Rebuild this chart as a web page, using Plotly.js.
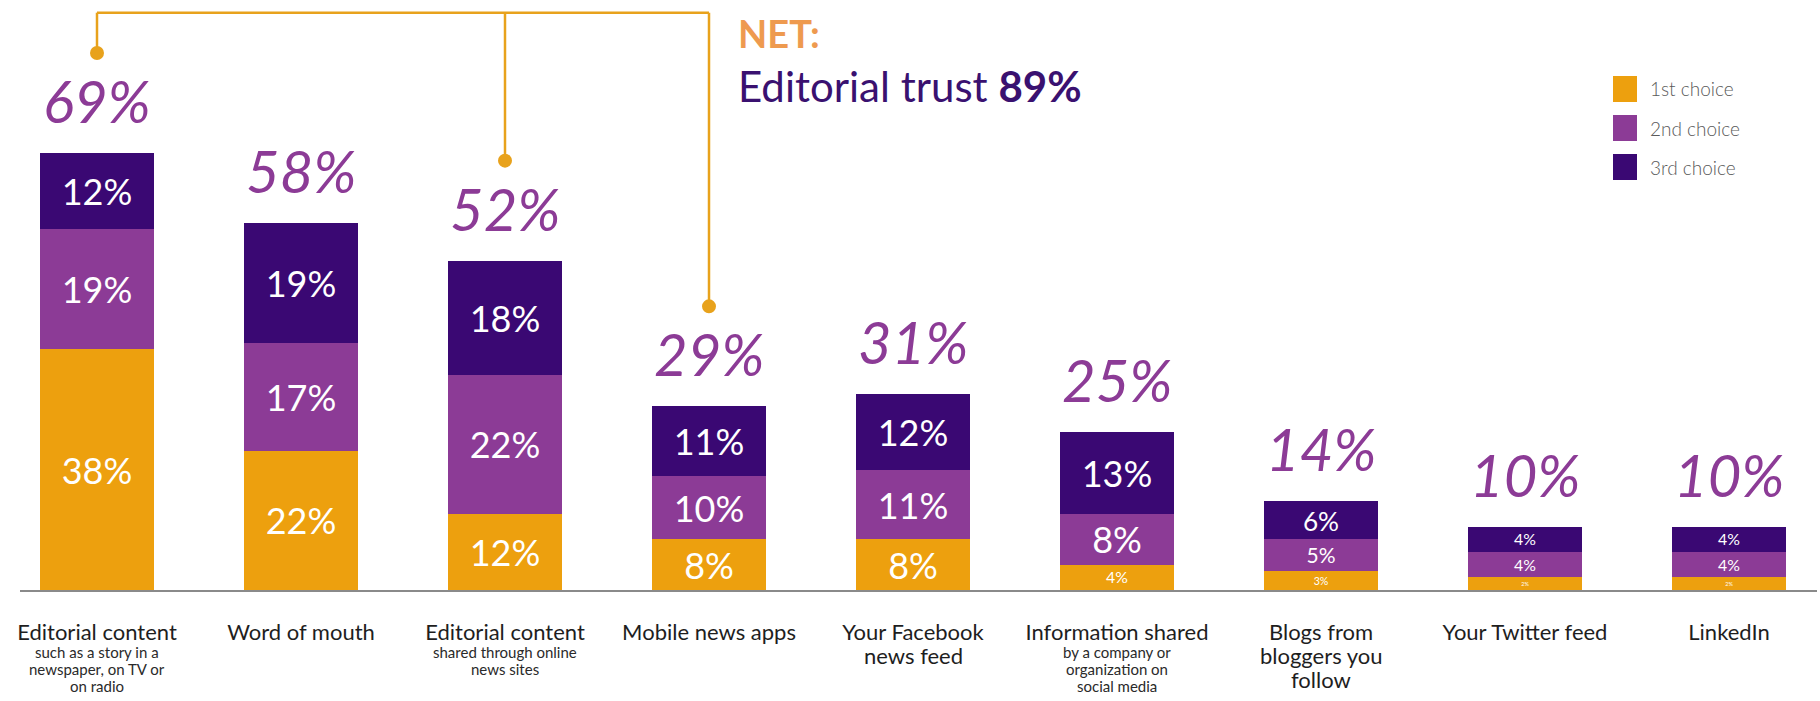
<!DOCTYPE html>
<html>
<head>
<meta charset="utf-8">
<script src="https://cdn.plot.ly/plotly-3.0.1.min.js"></script>
<style>
  html, body { margin: 0; padding: 0; background: #ffffff; }
  #chart { width: 1820px; height: 701px; }
</style>
</head>
<body>
<div id="chart"></div>
<script>
// ---------- data ----------
const categories = [
  "Editorial content", "Word of mouth", "Editorial content", "Mobile news apps",
  "Your Facebook<br>news feed", "Information shared", "Blogs from<br>bloggers you<br>follow",
  "Your Twitter feed", "LinkedIn"
];
const subtitles = [
  "such as a story in a<br>newspaper, on TV or<br>on radio", "",
  "shared through online<br>news sites", "", "",
  "by a company or<br>organization on<br>social media", "", "", ""
];
const firstChoice  = [38, 22, 12, 8, 8, 4, 3, 2, 2];
const secondChoice = [19, 17, 22, 10, 11, 8, 5, 4, 4];
const thirdChoice  = [12, 19, 18, 11, 12, 13, 6, 4, 4];
const totals       = [69, 58, 52, 29, 31, 25, 14, 10, 10];
const seriesNames  = ["1st choice", "2nd choice", "3rd choice"];
const seriesColors = ["#EDA00E", "#8C3B96", "#3A0873"];
const netIndices   = [0, 2, 3];
const netLabel     = "NET:";
const netText      = "Editorial trust";
const netValue     = 89;

// ---------- layout constants ----------
const W = 1820, H = 701;
const M = { l: 20, r: 3, t: 0, b: 111 };
const plotW = W - M.l - M.r, plotH = H - M.t - M.b;
const baseY = M.t + plotH;
const pxPerCat = 204;
const xMin = -(97 - M.l) / pxPerCat;
const xMax = xMin + plotW / pxPerCat;
const pxPerUnit = 437 / 69;
const yMax = plotH / pxPerUnit;
const FONT = "Lato, 'Open Sans', sans-serif";
const xIdx = categories.map((_, i) => i);

function paperX(px) { return (px - M.l) / plotW; }
function paperY(py) { return (baseY - py) / plotH; }

const seriesValues = [firstChoice, secondChoice, thirdChoice];
const traces = seriesValues.map((vals, k) => ({
  type: "bar",
  name: seriesNames[k],
  x: xIdx,
  y: vals,
  marker: { color: seriesColors[k], line: { width: 0 } },
  text: vals.map(v => v + "%"),
  textposition: "inside",
  insidetextanchor: "middle",
  textangle: 0,
  constraintext: "inside",
  textfont: { family: FONT, size: 36, color: "#ffffff" },
  hoverinfo: "name+y",
  showlegend: false
}));

// ---------- annotations ----------
const annotations = [];
totals.forEach((t, i) => {
  annotations.push({
    x: i, y: t, xref: "x", yref: "y",
    text: "<i>" + t + "%</i>",
    showarrow: false, yanchor: "bottom", yshift: 16,
    font: { family: FONT, size: 58, color: "#8C3B96" }
  });
});
// continuation lines of category names (tight line spacing like the reference)
const TITLE_SIZE = 22;
const titleLineCenters = [631, 655, 679];
categories.forEach((c, i) => {
  const lines = c.split("<br>");
  lines.slice(1).forEach((ln, k) => {
    annotations.push({
      x: i, y: 0, xref: "x", yref: "y",
      text: ln, showarrow: false, yanchor: "middle",
      yshift: -(titleLineCenters[k + 1] - baseY),
      font: { family: FONT, size: TITLE_SIZE, color: "#1e1e1e" }
    });
  });
});
const subLineCenters = [652, 669, 686];
subtitles.forEach((s, i) => {
  if (!s) return;
  s.split("<br>").forEach((ln, k) => {
    annotations.push({
      x: i, y: 0, xref: "x", yref: "y",
      text: ln, showarrow: false, yanchor: "middle",
      yshift: -(subLineCenters[k] - baseY),
      font: { family: FONT, size: 15, color: "#2a2a2a" }
    });
  });
});
annotations.push({
  x: paperX(736), y: paperY(33), xref: "paper", yref: "paper",
  xanchor: "left", yanchor: "middle", showarrow: false,
  text: "<b>" + netLabel + "</b>",
  font: { family: FONT, size: 38, color: "#EE9A4F" }
});
annotations.push({
  x: paperX(736), y: paperY(86), xref: "paper", yref: "paper",
  xanchor: "left", yanchor: "middle", showarrow: false,
  text: netText + " <b>" + netValue + "%</b>",
  font: { family: FONT, size: 42, color: "#3A1170" }
});
// custom legend labels
const legendTop = [76, 115, 154];
seriesNames.forEach((n, k) => {
  annotations.push({
    x: paperX(1648), y: paperY(legendTop[k] + 13), xref: "paper", yref: "paper",
    xanchor: "left", yanchor: "middle", showarrow: false,
    text: n, font: { family: FONT, size: 19, color: "#5a5a5a", weight: 300 }
  });
});

// ---------- shapes ----------
const shapes = [];
const bracketTop = (plotH - 12.7) / pxPerUnit;
const dotOffset = 100 / pxPerUnit;
const dotR = 7;
const bracketColor = "#E8A21C";
shapes.push({
  type: "line", xref: "x", yref: "y",
  x0: netIndices[0], x1: netIndices[netIndices.length - 1],
  y0: bracketTop, y1: bracketTop,
  line: { color: bracketColor, width: 2.5 }
});
netIndices.forEach(i => {
  shapes.push({
    type: "line", xref: "x", yref: "y",
    x0: i, x1: i, y0: totals[i] + dotOffset, y1: bracketTop,
    line: { color: bracketColor, width: 2.5 }
  });
  shapes.push({
    type: "circle", xref: "x", yref: "y",
    x0: i - dotR / pxPerCat, x1: i + dotR / pxPerCat,
    y0: totals[i] + dotOffset - dotR / pxPerUnit, y1: totals[i] + dotOffset + dotR / pxPerUnit,
    fillcolor: bracketColor, line: { width: 0 }
  });
});
seriesNames.forEach((n, k) => {
  shapes.push({
    type: "rect", xref: "paper", yref: "paper",
    x0: paperX(1613), x1: paperX(1637),
    y0: paperY(legendTop[k] + 26), y1: paperY(legendTop[k]),
    fillcolor: seriesColors[k], line: { width: 0 }
  });
});

const layout = {
  width: W, height: H,
  margin: M,
  paper_bgcolor: "#ffffff", plot_bgcolor: "#ffffff",
  barmode: "stack",
  bargap: 0.44,
  showlegend: false,
  font: { family: FONT },
  xaxis: {
    range: [xMin, xMax],
    tickmode: "array", tickvals: xIdx,
    ticktext: categories.map(c => c.split("<br>")[0]),
    showgrid: false, zeroline: false,
    showline: true, linecolor: "#8a8a8a", linewidth: 2,
    ticks: "", ticklabelstandoff: 22,
    tickfont: { family: FONT, size: TITLE_SIZE, color: "#1e1e1e" },
    automargin: false, fixedrange: true
  },
  yaxis: {
    range: [0, yMax],
    visible: false, showgrid: false, zeroline: false,
    automargin: false, fixedrange: true
  },
  annotations: annotations,
  shapes: shapes
};

Plotly.newPlot("chart", traces, layout, { displayModeBar: false, staticPlot: true });
</script>
</body>
</html>
